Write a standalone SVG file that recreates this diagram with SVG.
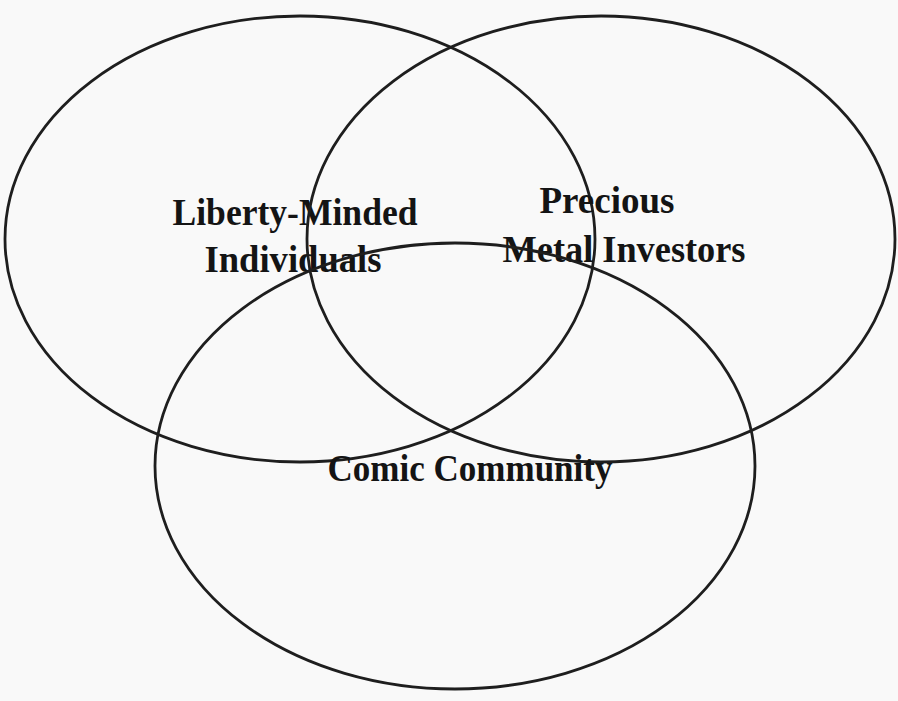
<svg xmlns="http://www.w3.org/2000/svg" width="898" height="701" viewBox="0 0 898 701">
<style>
.set{fill:none;stroke:#1e1e1e;stroke-width:2.8}
.lbl{font-family:"Liberation Serif","DejaVu Serif",serif;font-weight:bold;font-size:37px;fill:#141414;text-anchor:middle}
</style>
<rect width="898" height="701" fill="#f9f9f9"/>
<g id="connectors"></g>
<g id="liberty">
<ellipse class="set" cx="300" cy="239" rx="295" ry="223"/>
<text class="lbl" x="295" y="225" textLength="245" lengthAdjust="spacingAndGlyphs">Liberty-Minded</text>
<text class="lbl" x="293" y="272" textLength="177" lengthAdjust="spacingAndGlyphs">Individuals</text>
</g>
<g id="precious">
<ellipse class="set" cx="601" cy="239" rx="294" ry="223"/>
<text class="lbl" x="607" y="213" textLength="135" lengthAdjust="spacingAndGlyphs">Precious</text>
<text class="lbl" x="624" y="262" textLength="243" lengthAdjust="spacingAndGlyphs">Metal Investors</text>
</g>
<g id="comic">
<ellipse class="set" cx="455" cy="466" rx="300" ry="223"/>
<text class="lbl" x="470" y="481" textLength="285" lengthAdjust="spacingAndGlyphs">Comic Community</text>
</g>
</svg>
